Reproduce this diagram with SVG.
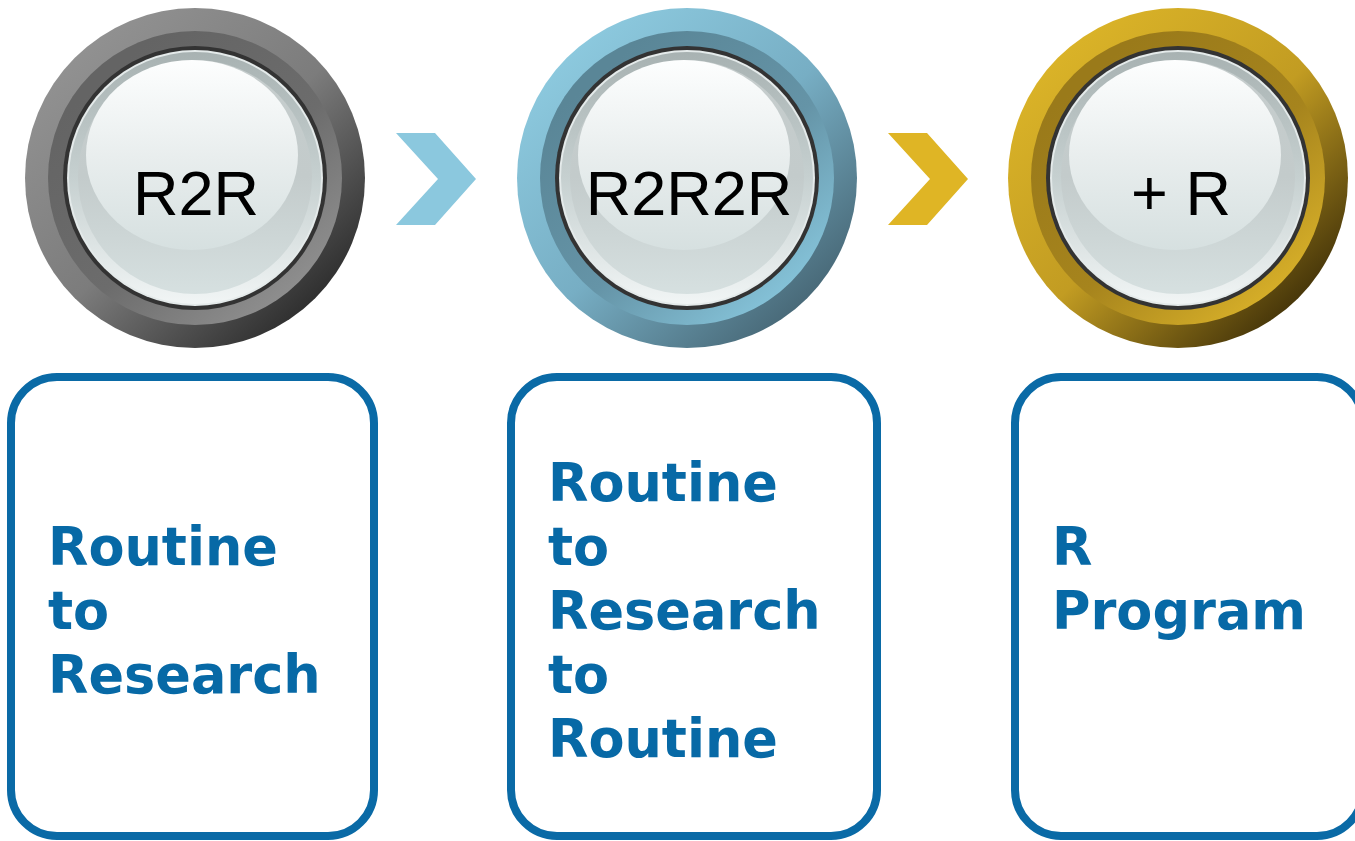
<svg xmlns="http://www.w3.org/2000/svg" width="1355" height="841" viewBox="0 0 1355 841">
<defs>
  <linearGradient id="gOutGray" x1="0.15" y1="0.1" x2="0.9" y2="0.9">
    <stop offset="0" stop-color="#929292"/><stop offset="0.5" stop-color="#7c7c7c"/><stop offset="1" stop-color="#262626"/>
  </linearGradient>
  <linearGradient id="gInGray" x1="0.2" y1="0.15" x2="0.85" y2="0.9">
    <stop offset="0" stop-color="#646464"/><stop offset="0.55" stop-color="#6c6c6c"/><stop offset="1" stop-color="#909090"/>
  </linearGradient>
  <linearGradient id="gOutBlue" x1="0.15" y1="0.1" x2="0.9" y2="0.9">
    <stop offset="0" stop-color="#8dcadf"/><stop offset="0.5" stop-color="#77aec4"/><stop offset="1" stop-color="#43616f"/>
  </linearGradient>
  <linearGradient id="gInBlue" x1="0.2" y1="0.15" x2="0.85" y2="0.9">
    <stop offset="0" stop-color="#5a8697"/><stop offset="0.55" stop-color="#6594a7"/><stop offset="1" stop-color="#86c4da"/>
  </linearGradient>
  <linearGradient id="gOutGold" x1="0.15" y1="0.1" x2="0.9" y2="0.9">
    <stop offset="0" stop-color="#dbb428"/><stop offset="0.5" stop-color="#c29c22"/><stop offset="1" stop-color="#382a07"/>
  </linearGradient>
  <linearGradient id="gInGold" x1="0.2" y1="0.15" x2="0.85" y2="0.9">
    <stop offset="0" stop-color="#9a7a1a"/><stop offset="0.55" stop-color="#a6841d"/><stop offset="1" stop-color="#d8b029"/>
  </linearGradient>
  <linearGradient id="gRim" x1="0" y1="0" x2="0" y2="1">
    <stop offset="0" stop-color="#a8b2b2"/><stop offset="0.5" stop-color="#c6d0d0"/><stop offset="1" stop-color="#f1f5f5"/>
  </linearGradient>
  <linearGradient id="gBody" x1="0" y1="0" x2="0" y2="1">
    <stop offset="0" stop-color="#c6cdcd"/><stop offset="0.5" stop-color="#c3cbcb"/><stop offset="1" stop-color="#d6e0e0"/>
  </linearGradient>
  <linearGradient id="gHi" x1="0" y1="0" x2="0" y2="1">
    <stop offset="0" stop-color="#fdfefe"/><stop offset="0.5" stop-color="#e9eeee"/><stop offset="1" stop-color="#d6e0e0"/>
  </linearGradient>
  <g id="glass">
    <circle r="132" fill="#333333"/>
    <circle r="128" fill="#e4eaea"/>
    <circle r="126" fill="url(#gRim)"/>
    <circle cy="-1" r="117" fill="url(#gBody)"/>
    <ellipse cx="-3" cy="-23" rx="106" ry="95" fill="url(#gHi)"/>
  </g>
</defs>
<style>
  .box { fill: #ffffff; stroke: #0a6aa6; stroke-width: 8; }
  .label { font-family: "DejaVu Sans", Verdana, sans-serif; font-weight: bold; font-size: 52.5px; fill: #0769a6; }
  .title { font-family: "Liberation Sans", Arial, sans-serif; font-size: 63px; fill: #000000; text-anchor: middle; }
</style>
<rect width="1355" height="841" fill="#ffffff"/>

<g id="node-r2r">
  <circle cx="195" cy="178" r="170" fill="url(#gOutGray)"/>
  <circle cx="195" cy="178" r="147" fill="url(#gInGray)"/>
  <use href="#glass" x="195" y="178"/>
  <text class="title" x="196" y="215">R2R</text>
</g>

<g id="node-r2r2r">
  <circle cx="687" cy="178" r="170" fill="url(#gOutBlue)"/>
  <circle cx="687" cy="178" r="147" fill="url(#gInBlue)"/>
  <use href="#glass" x="687" y="178"/>
  <text class="title" x="689" y="215">R2R2R</text>
</g>

<g id="node-plus-r">
  <circle cx="1178" cy="178" r="170" fill="url(#gOutGold)"/>
  <circle cx="1178" cy="178" r="147" fill="url(#gInGold)"/>
  <use href="#glass" x="1178" y="178"/>
  <text class="title" x="1181" y="215">+ R</text>
</g>

<g id="connectors">
  <polygon points="396,133 435,133 476,179 435,225 396,225 438,179" fill="#8bc8de"/>
  <polygon points="888,133 927,133 968,179 927,225 888,225 930,179" fill="#dfb525"/>
</g>

<g id="box-1">
  <rect class="box" x="11" y="377" width="363" height="459" rx="46"/>
  <text class="label" x="48"><tspan x="48" y="565">Routine</tspan><tspan x="48" y="629">to</tspan><tspan x="48" y="693">Research</tspan></text>
</g>

<g id="box-2">
  <rect class="box" x="511" y="377" width="366" height="459" rx="46"/>
  <text class="label" x="548"><tspan x="548" y="501">Routine</tspan><tspan x="548" y="565">to</tspan><tspan x="548" y="629">Research</tspan><tspan x="548" y="693">to</tspan><tspan x="548" y="757">Routine</tspan></text>
</g>

<g id="box-3">
  <rect class="box" x="1015" y="377" width="348" height="459" rx="46"/>
  <text class="label" x="1052"><tspan x="1052" y="565">R</tspan><tspan x="1052" y="629">Program</tspan></text>
</g>
</svg>
